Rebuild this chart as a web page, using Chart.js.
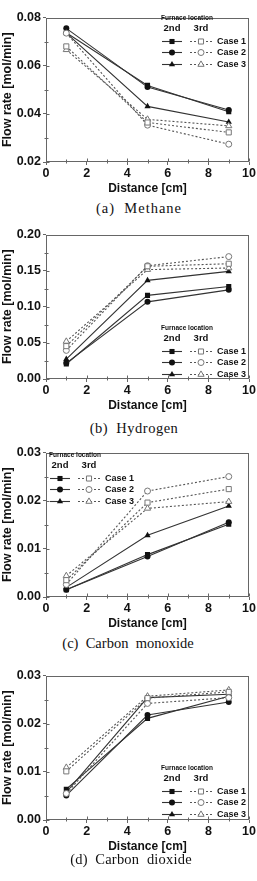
<!DOCTYPE html>
<html>
<head>
<meta charset="utf-8">
<script src="https://cdn.jsdelivr.net/npm/chart.js@4.4.1/dist/chart.umd.min.js"></script>
<style>
html, body { margin: 0; padding: 0; background: #fff; }
#pagina { position: relative; width: 257px; height: 881px; overflow: hidden; }
.painel { position: absolute; left: 0; width: 257px; height: 188px; }
.rotulo { position: absolute; transform: translate(-50%, -50%); font-family: "Liberation Serif", "Times New Roman", serif; font-size: 14.5px; white-space: pre; color: #111; }
</style>
</head>
<body>
<div id="pagina"></div>
<script>
// Dados (Case 1, Case 2, Case 3)
const distancia = [1, 5, 9];
const casos = ['Case 1', 'Case 2', 'Case 3'];

const metano2nd = [[0.0737, 0.0518, 0.0409], [0.0755, 0.0511, 0.0416], [0.0735, 0.0431, 0.0366]];
const metano3rd = [[0.0680, 0.0364, 0.0323], [0.0735, 0.0353, 0.0274], [0.0666, 0.0377, 0.0350]];

const hidrogenio2nd = [[0.0207, 0.1158, 0.1280], [0.0220, 0.1068, 0.1234], [0.0275, 0.1365, 0.1490]];
const hidrogenio3rd = [[0.0455, 0.1560, 0.1595], [0.0396, 0.1568, 0.1694], [0.0520, 0.1514, 0.1536]];

const monoxido2nd = [[0.0015, 0.0088, 0.0151], [0.0015, 0.0084, 0.0155], [0.0020, 0.0128, 0.0189]];
const monoxido3rd = [[0.0035, 0.0196, 0.0224], [0.0026, 0.0220, 0.0250], [0.0044, 0.0184, 0.0198]];

const dioxido2nd = [[0.0064, 0.0211, 0.0257], [0.0051, 0.0218, 0.0245], [0.0058, 0.0254, 0.0261]];
const dioxido3rd = [[0.0101, 0.0253, 0.0266], [0.0055, 0.0242, 0.0254], [0.0109, 0.0257, 0.0270]];

const eixoYmin = [0.02, 0, 0, 0];
const eixoYmax = [0.08, 0.20, 0.03, 0.03];
const eixoYpasso = [0.02, 0.05, 0.01, 0.01];

const legendas = ['(a)  Methane', '(b)  Hydrogen', '(c)  Carbon  monoxide', '(d)  Carbon  dioxide'];

// Layout
const topoPlot = [14, 231, 449, 672];
const posLegenda = [[162, 18], [162, 328], [50, 455], [162, 768]];
const posRotulo = [[139, 208], [134, 428], [128, 643], [131, 859]];
const espacoRotulo = [1, 0.5, 0, 0.2];
const marcadores = ['rect', 'circle', 'triangle'];
const raios = [3.6, 3, 3.6];
const corMoldura = '#666';
const FONTE = '"Liberation Sans", Arial, sans-serif';

const pluginMoldura = {
    id: 'moldura',
    afterDraw(chart) {
        const { ctx, chartArea: a, scales: { x, y } } = chart;
        const cfg = chart.options.plugins.moldura;
        ctx.save();
        ctx.strokeStyle = corMoldura;
        ctx.lineWidth = 1;
        const l = Math.round(a.left) + 0.5, r = Math.round(a.right) - 0.5;
        const t = Math.round(a.top) + 0.5, b = Math.round(a.bottom) - 0.5;
        ctx.strokeRect(l, t, r - l, b - t);

        // marcas internas (maiores e menores)
        ctx.beginPath();
        for (let v = 0; v <= 10; v++) {
            const px = Math.round(x.getPixelForValue(v)) + 0.5;
            const len = v % 2 === 0 ? 3 : 2;
            ctx.moveTo(px, b); ctx.lineTo(px, b - len);
        }
        const tk = y.ticks.map(k => k.value);
        for (let i = 0; i < tk.length; i++) {
            const py = Math.round(y.getPixelForValue(tk[i])) + 0.5;
            ctx.moveTo(l, py); ctx.lineTo(l + 3, py);
            if (i < tk.length - 1) {
                const pm = Math.round(y.getPixelForValue((tk[i] + tk[i + 1]) / 2)) + 0.5;
                ctx.moveTo(l, pm); ctx.lineTo(l + 2, pm);
                ctx.moveTo(l, pm); ctx.lineTo(l - 2, pm);
            }
        }
        for (let v = 1; v < 10; v += 2) {
            const px = Math.round(x.getPixelForValue(v)) + 0.5;
            ctx.moveTo(px, b); ctx.lineTo(px, b + 2);
        }
        ctx.stroke();

        // legenda "Furnace location"
        const lx = cfg.lx, ly = cfg.ly;
        ctx.fillStyle = '#111';
        ctx.textBaseline = 'middle';
        ctx.textAlign = 'left';
        ctx.font = 'bold 6.5px ' + FONTE;
        ctx.fillText('Furnace location', lx - 1, ly);
        ctx.font = 'bold 9.5px ' + FONTE;
        ctx.textAlign = 'center';
        ctx.fillText('2nd', lx + 10, ly + 10);
        ctx.fillText('3rd', lx + 39, ly + 10);
        for (let k = 0; k < 3; k++) {
            const yy = Math.round(ly + 23 + k * 11.3) + 0.5;
            ctx.setLineDash([]);
            ctx.strokeStyle = '#333';
            ctx.lineWidth = 1.1;
            ctx.beginPath(); ctx.moveTo(lx, yy); ctx.lineTo(lx + 20, yy); ctx.stroke();
            ctx.fillStyle = '#111';
            Chart.helpers.drawPoint(ctx, { pointStyle: marcadores[k], radius: raios[k], rotation: 0, borderWidth: 0 }, lx + 10, yy);
            ctx.strokeStyle = '#555';
            ctx.setLineDash([2, 2]);
            ctx.beginPath(); ctx.moveTo(lx + 28, yy); ctx.lineTo(lx + 50, yy); ctx.stroke();
            ctx.setLineDash([]);
            ctx.fillStyle = '#fff';
            ctx.strokeStyle = '#777';
            ctx.lineWidth = 1;
            Chart.helpers.drawPoint(ctx, { pointStyle: marcadores[k], radius: raios[k], rotation: 0, borderWidth: 1 }, lx + 39, yy);
            ctx.fillStyle = '#111';
            ctx.textAlign = 'left';
            ctx.font = 'bold 9px ' + FONTE;
            ctx.fillText(casos[k], lx + 55, yy);
        }
        ctx.restore();
    }
};

function montarSeries(segundo, terceiro) {
    const series = [];
    terceiro.forEach((valores, i) => {
        series.push({
            label: casos[i] + ' 3rd',
            data: valores.map((v, j) => ({ x: distancia[j], y: v })),
            borderColor: '#555',
            borderDash: [2, 2],
            borderWidth: 1.1,
            pointStyle: marcadores[i],
            pointRadius: raios[i],
            pointBackgroundColor: '#fff',
            pointBorderColor: '#777',
            pointBorderWidth: 1
        });
    });
    segundo.forEach((valores, i) => {
        series.push({
            label: casos[i] + ' 2nd',
            data: valores.map((v, j) => ({ x: distancia[j], y: v })),
            borderColor: '#333',
            borderWidth: 1.1,
            pointStyle: marcadores[i],
            pointRadius: raios[i],
            pointBackgroundColor: '#111',
            pointBorderColor: '#111',
            pointBorderWidth: 0
        });
    });
    return series;
}

const gases = [
    [metano2nd, metano3rd],
    [hidrogenio2nd, hidrogenio3rd],
    [monoxido2nd, monoxido3rd],
    [dioxido2nd, dioxido3rd]
];

const pagina = document.getElementById('pagina');

gases.forEach(([segundo, terceiro], i) => {
    const topoCanvas = topoPlot[i] - 6;
    const div = document.createElement('div');
    div.className = 'painel';
    div.style.top = topoCanvas + 'px';
    const cv = document.createElement('canvas');
    div.appendChild(cv);
    pagina.appendChild(div);

    const rot = document.createElement('div');
    rot.className = 'rotulo';
    rot.textContent = legendas[i];
    rot.style.left = posRotulo[i][0] + 'px';
    rot.style.top = posRotulo[i][1] + 'px';
    rot.style.letterSpacing = espacoRotulo[i] + 'px';
    pagina.appendChild(rot);

    new Chart(cv, {
        type: 'line',
        data: { datasets: montarSeries(segundo, terceiro) },
        plugins: [pluginMoldura],
        options: {
            responsive: true,
            maintainAspectRatio: false,
            animation: false,
            layout: { padding: { top: 6, right: 7, left: 0, bottom: 0 } },
            plugins: {
                legend: { display: false },
                tooltip: { enabled: false },
                moldura: { lx: posLegenda[i][0], ly: posLegenda[i][1] - topoCanvas }
            },
            scales: {
                x: {
                    type: 'linear',
                    min: 0, max: 10,
                    afterFit: s => { s.height = 34; },
                    border: { display: false },
                    grid: { drawOnChartArea: false, tickLength: 3, color: corMoldura },
                    ticks: { stepSize: 2, padding: 1, color: '#111', font: { family: FONTE, size: 12.5, weight: 'bold' } },
                    title: { display: true, text: 'Distance [cm]', color: '#111', padding: 0, font: { family: FONTE, size: 12, weight: 'bold' } }
                },
                y: {
                    min: eixoYmin[i], max: eixoYmax[i],
                    afterFit: s => { s.width = 46; },
                    border: { display: false },
                    grid: { drawOnChartArea: false, tickLength: 3, color: corMoldura },
                    ticks: {
                        stepSize: eixoYpasso[i], padding: 2, color: '#111',
                        font: { family: FONTE, size: 12.5, weight: 'bold' },
                        callback: v => v.toFixed(2)
                    },
                    title: { display: true, text: 'Flow rate [mol/min]', color: '#111', padding: 0, font: { family: FONTE, size: 12.5, weight: 'bold' } }
                }
            }
        }
    });
});
</script>
</body>
</html>
